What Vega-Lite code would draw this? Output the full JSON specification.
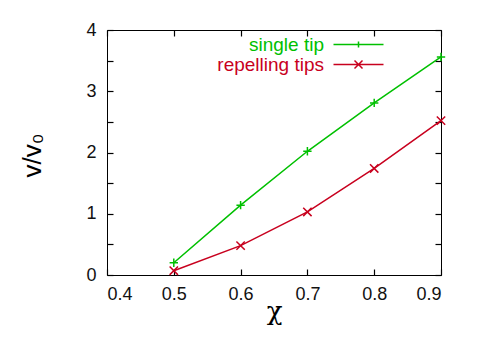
{
  "$schema": "https://vega.github.io/schema/vega-lite/v6.json",
  "width": 334,
  "height": 245,
  "autosize": "none",
  "padding": {"left": 107, "top": 30, "right": 41, "bottom": 64},
  "background": "white",
  "config": {
    "view": {"stroke": "black", "strokeWidth": 1},
    "font": "Liberation Sans",
    "axis": {"labelFont": "Liberation Sans", "labelFontSize": 18, "labelColor": "#111", "grid": false, "domain": false, "titleFont": "Liberation Sans"}
  },
  "data": {"values": [
    {"chi": 0.5, "v": 0.20, "series": "single tip"},
    {"chi": 0.6, "v": 1.14, "series": "single tip"},
    {"chi": 0.7, "v": 2.02, "series": "single tip"},
    {"chi": 0.8, "v": 2.81, "series": "single tip"},
    {"chi": 0.9, "v": 3.56, "series": "single tip"},
    {"chi": 0.5, "v": 0.07, "series": "repelling tips"},
    {"chi": 0.6, "v": 0.48, "series": "repelling tips"},
    {"chi": 0.7, "v": 1.03, "series": "repelling tips"},
    {"chi": 0.8, "v": 1.74, "series": "repelling tips"},
    {"chi": 0.9, "v": 2.52, "series": "repelling tips"}
  ]},
  "resolve": {"axis": {"x": "independent", "y": "independent"}},
  "layer": [
    {
      "mark": {"type": "line", "strokeWidth": 1.5},
      "encoding": {
        "x": {"field": "chi", "type": "quantitative", "scale": {"domain": [0.4, 0.9], "nice": false, "zero": false},
          "axis": {"orient": "bottom", "values": [0.4, 0.5, 0.6, 0.7, 0.8, 0.9], "format": ".1f", "ticks": true, "offset": -6, "tickSize": 6, "tickColor": "black", "tickWidth": 1.2, "labelPadding": 10, "title": "χ", "titleFont": "DejaVu Serif", "titleFontSize": 26, "titleFontWeight": "normal", "titleBaseline": "middle", "titleY": 42}},
        "y": {"field": "v", "type": "quantitative", "scale": {"domain": [0, 4], "nice": false},
          "axis": {"orient": "left", "values": [0, 0.5, 1, 1.5, 2, 2.5, 3, 3.5, 4], "ticks": true, "offset": -6, "tickSize": 6, "tickColor": "black", "tickWidth": 1.2, "labelExpr": "datum.value % 1 === 0 ? format(datum.value, 'd') : ''", "labelPadding": 11, "title": "v/v₀", "titleFontSize": 26, "titleFontWeight": "normal", "titleAngle": -90, "titleBaseline": "middle", "titleAlign": "center", "titleX": -81, "titleY": 125}},
        "color": {"field": "series", "type": "nominal",
          "scale": {"domain": ["single tip", "repelling tips"], "range": ["#00c000", "#c8001e"]},
          "legend": {"title": null, "orient": "none", "legendX": 242, "legendY": 5, "symbolType": "M-5,0H5", "symbolSize": 100, "symbolStrokeWidth": 1.5, "labelFontSize": 19, "labelAlign": "right", "labelOffset": -44, "rowPadding": -3,
            "encode": {
              "labels": {"update": {"fill": {"signal": "datum.value === 'single tip' ? '#00c000' : '#c8001e'"}}},
              "symbols": {"update": {"shape": {"signal": "datum.value === 'single tip' ? 'M-5,0H5M0,-0.6V0.6' : 'M-5,0H5M-0.8,-0.8L0.8,0.8M-0.8,0.8L0.8,-0.8'"}}}
            }}}
      }
    },
    {
      "transform": [{"filter": "datum.series === 'single tip'"}],
      "mark": {"type": "point", "filled": false, "strokeWidth": 1.5, "size": 70, "opacity": 1, "color": "#00c000", "shape": "M-1,0H1M0,-1V1"},
      "encoding": {
        "x": {"field": "chi", "type": "quantitative", "axis": {"orient": "top", "values": [0.4, 0.5, 0.6, 0.7, 0.8, 0.9], "ticks": true, "offset": -6, "tickSize": 6, "tickColor": "black", "tickWidth": 1.2, "labels": false, "title": null}},
        "y": {"field": "v", "type": "quantitative", "axis": {"orient": "right", "values": [0, 0.5, 1, 1.5, 2, 2.5, 3, 3.5, 4], "ticks": true, "offset": -6, "tickSize": 6, "tickColor": "black", "tickWidth": 1.2, "labels": false, "title": null}}
      }
    },
    {
      "transform": [{"filter": "datum.series === 'repelling tips'"}],
      "mark": {"type": "point", "filled": false, "strokeWidth": 1.5, "size": 70, "opacity": 1, "color": "#c8001e", "shape": "M-1,-1L1,1M-1,1L1,-1"},
      "encoding": {
        "x": {"field": "chi", "type": "quantitative", "axis": null},
        "y": {"field": "v", "type": "quantitative", "axis": null}
      }
    }
  ]
}
